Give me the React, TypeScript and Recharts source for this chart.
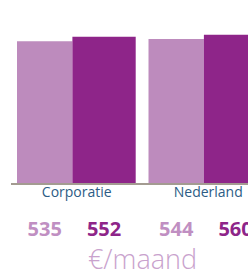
import React from 'react';
import { BarChart, Bar, XAxis, YAxis, Label } from 'recharts';

const categories = ['Corporatie', 'Nederland'];
const lightValues = [535, 544];
const darkValues = [552, 560];
const unitLabel = '€/maand';

const data = categories.map((name, i) => ({ name, light: lightValues[i], dark: darkValues[i] }));

const FONT = '"Open Sans", sans-serif';

const valueLabel = (color: string) => (props: any) => {
  const { x, y, width, height, value } = props;
  return (
    <text
      x={Number(x) + Number(width) / 2}
      y={Number(y) + Number(height) + 52}
      textAnchor="middle"
      fill={color}
      fontSize={20}
      fontWeight={700}
      fontFamily={FONT}
    >
      {value}
    </text>
  );
};

export default function App() {
  return (
    <div style={{ position: 'fixed', left: 0, top: 0, width: 248, height: 272, overflow: 'hidden', background: '#fff' }}>
      <BarChart
        width={290}
        height={272}
        data={data}
        margin={{ top: 24, right: 16, left: 11, bottom: 0 }}
        barGap={0}
      >
        <YAxis hide domain={[0, 600]} />
        <XAxis
          dataKey="name"
          height={88}
          axisLine={{ stroke: '#a39b91', strokeWidth: 2 }}
          tickLine={false}
          tickSize={0}
          tickMargin={3}
          tick={{ fill: '#2c5c85', fontSize: 14, fontFamily: FONT }}
        >
          <Label
            value={unitLabel}
            position="insideBottom"
            offset={3}
            fill="#c9a2cd"
            fontSize={27}
            fontWeight={300}
            fontFamily={FONT}
          />
        </XAxis>
        <Bar dataKey="light" fill="#bd8bbd" barSize={55.4} isAnimationActive={false} label={valueLabel('#c08fc2')} />
        <Bar dataKey="dark" fill="#8e2589" barSize={63.3} isAnimationActive={false} label={valueLabel('#8e2589')} />
      </BarChart>
    </div>
  );
}
